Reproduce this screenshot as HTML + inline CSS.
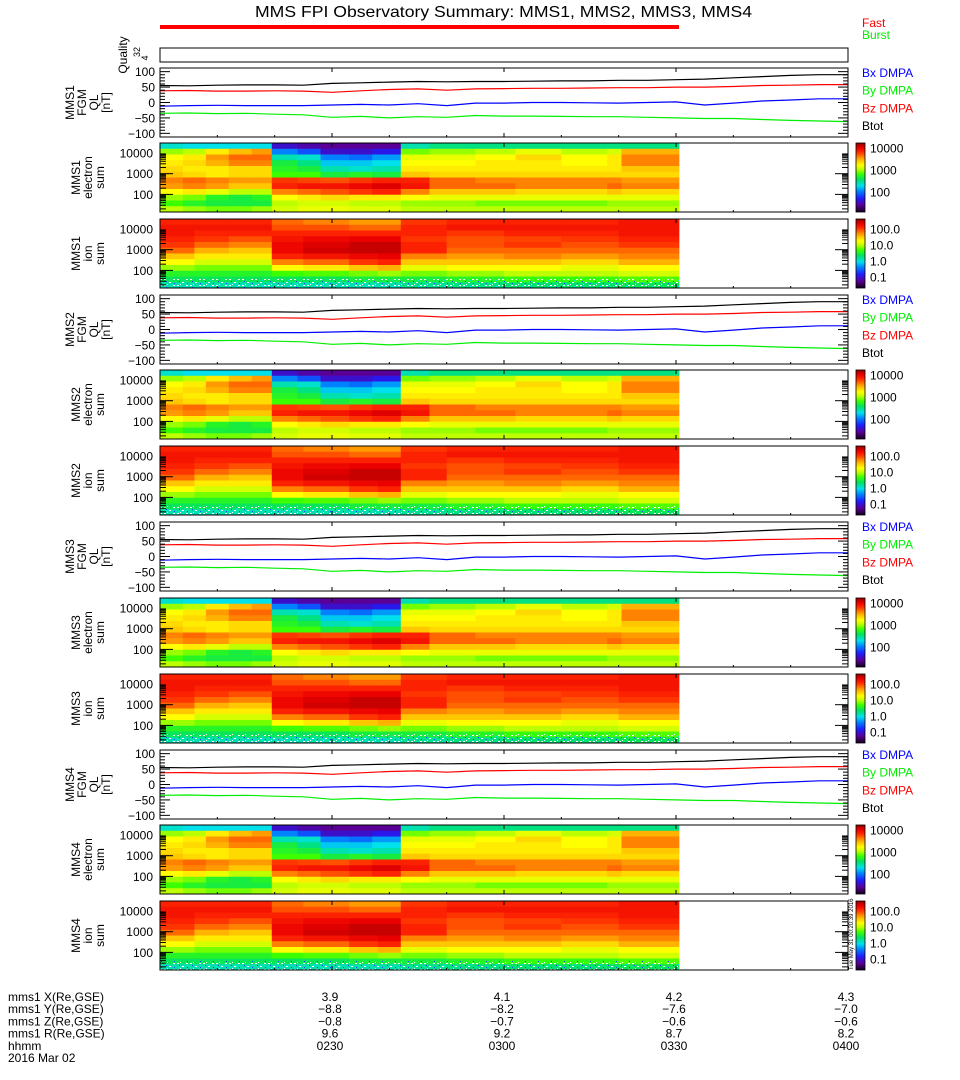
<!DOCTYPE html>
<html><head><meta charset="utf-8"><style>
html,body{margin:0;padding:0;background:#fff;}
svg{display:block;font-family:"Liberation Sans",sans-serif;}
</style></head><body>
<svg id="fig" width="960" height="1080" viewBox="0 0 960 1080" xmlns="http://www.w3.org/2000/svg">
<text x="255" y="17" font-size="16" textLength="497" lengthAdjust="spacingAndGlyphs">MMS FPI Observatory Summary: MMS1, MMS2, MMS3, MMS4</text>
<rect x="160" y="25" width="519" height="4" fill="#ff0000"/>
<text x="862" y="27" font-size="12" fill="#ff0000">Fast</text>
<text x="862" y="39" font-size="12" fill="#00ee00">Burst</text>
<rect x="160" y="48" width="688" height="14" fill="none" stroke="#000" stroke-width="1"/>
<text transform="translate(127,55) rotate(-90)" font-size="12" text-anchor="middle">Quality</text>
<text transform="translate(140,52) rotate(-90)" font-size="9" text-anchor="middle">32</text>
<text transform="translate(148,58) rotate(-90)" font-size="9" text-anchor="middle">4</text>
<g id="panels"></g>
<g id="bottom"></g>
<text transform="translate(853,970) rotate(-90)" font-size="6">Tue May 31 00:20:39 2016</text>
</svg>
<script>
// ---- time axis ----
const tickTimes = [30, 60, 90, 120];
const tickHHMM = ["0230", "0300", "0330", "0400"];
const posX = ["3.9", "4.1", "4.2", "4.3"];
const posY = ["-8.8", "-8.2", "-7.6", "-7.0"];
const posZ = ["-0.8", "-0.7", "-0.6", "-0.6"];
const posR = ["9.6", "9.2", "8.7", "8.2"];
// ---- FGM data (minutes after 0200, nT) ----
const fgmTimes = [0,5,10,15,20,25,30,35,40,45,50,55,60,65,70,75,80,85,90,95,100,105,110,115,120];
const btot = [55,54,56,57,57,56,62,64,66,68,67,68,68,69,70,70,72,72,74,76,80,84,88,90,90];
const bz = [38,39,37,37,38,37,33,38,42,44,40,44,45,46,46,47,48,48,50,50,52,55,56,58,58];
const bx = [-12,-10,-9,-10,-10,-10,-8,-6,-8,-4,-10,-2,-2,0,0,-1,-2,0,2,-8,-2,5,8,12,12];
const by = [-35,-34,-36,-35,-38,-40,-48,-45,-50,-46,-48,-42,-44,-44,-45,-46,-46,-48,-50,-52,-52,-55,-58,-60,-62];
// ---- spectrogram data (colour-scale level 0..1, rows top->bottom) ----
const specEnd = 90.5;
const eTimes = [0,4,8,12,16,19.5,24,28,33,37,42,47,55,62,70,78,80.5];
const eSpec = [
 [0.40,0.60,0.68,0.70,0.72,0.74,0.80,0.78,0.68,0.60,0.55,0.62],
 [0.38,0.62,0.70,0.72,0.70,0.72,0.82,0.80,0.70,0.58,0.52,0.60],
 [0.38,0.70,0.78,0.76,0.70,0.70,0.80,0.78,0.66,0.52,0.50,0.58],
 [0.38,0.75,0.82,0.80,0.72,0.72,0.78,0.74,0.62,0.50,0.50,0.58],
 [0.38,0.78,0.82,0.80,0.72,0.72,0.78,0.74,0.62,0.52,0.50,0.60],
 [0.15,0.30,0.42,0.50,0.52,0.55,0.86,0.88,0.80,0.68,0.62,0.64],
 [0.12,0.25,0.40,0.45,0.50,0.55,0.85,0.90,0.82,0.70,0.64,0.66],
 [0.10,0.15,0.30,0.36,0.42,0.50,0.84,0.90,0.84,0.72,0.64,0.66],
 [0.10,0.15,0.28,0.36,0.40,0.52,0.86,0.92,0.86,0.70,0.62,0.65],
 [0.10,0.18,0.32,0.38,0.42,0.50,0.88,0.94,0.88,0.70,0.62,0.65],
 [0.42,0.58,0.66,0.68,0.70,0.74,0.88,0.90,0.80,0.68,0.60,0.62],
 [0.45,0.60,0.66,0.68,0.70,0.72,0.82,0.82,0.74,0.66,0.60,0.62],
 [0.45,0.62,0.68,0.70,0.70,0.72,0.80,0.82,0.74,0.66,0.58,0.62],
 [0.45,0.66,0.72,0.70,0.70,0.72,0.80,0.80,0.72,0.66,0.58,0.62],
 [0.45,0.62,0.68,0.68,0.70,0.72,0.80,0.80,0.72,0.66,0.58,0.62],
 [0.45,0.64,0.70,0.70,0.70,0.72,0.80,0.82,0.74,0.66,0.60,0.62],
 [0.45,0.76,0.80,0.80,0.74,0.72,0.78,0.80,0.72,0.66,0.60,0.62]
];
const iTimes = [0,6,12,19.5,25,33,38,42,50,60,70,80];
const iSpec = [
 [0.88,0.90,0.90,0.88,0.86,0.82,0.74,0.68,0.60,0.52,0.48,0.42],
 [0.88,0.90,0.88,0.86,0.82,0.76,0.70,0.64,0.58,0.52,0.48,0.42],
 [0.88,0.90,0.88,0.84,0.80,0.74,0.70,0.64,0.58,0.52,0.48,0.42],
 [0.82,0.84,0.88,0.90,0.92,0.92,0.88,0.80,0.68,0.55,0.48,0.42],
 [0.80,0.84,0.88,0.92,0.94,0.95,0.90,0.82,0.70,0.56,0.48,0.42],
 [0.78,0.82,0.88,0.93,0.96,0.96,0.92,0.86,0.74,0.58,0.50,0.42],
 [0.78,0.82,0.88,0.93,0.96,0.96,0.93,0.88,0.76,0.60,0.50,0.42],
 [0.86,0.88,0.88,0.86,0.88,0.88,0.80,0.74,0.66,0.58,0.50,0.44],
 [0.88,0.90,0.86,0.84,0.84,0.82,0.78,0.74,0.68,0.60,0.52,0.45],
 [0.88,0.90,0.88,0.85,0.86,0.82,0.80,0.74,0.68,0.62,0.54,0.46],
 [0.88,0.90,0.88,0.86,0.84,0.82,0.78,0.72,0.66,0.62,0.54,0.46],
 [0.90,0.90,0.90,0.88,0.86,0.82,0.80,0.76,0.68,0.64,0.56,0.48]
];
const craftNames = ["MMS1", "MMS2", "MMS3", "MMS4"];
const fgmLegendNames = ["Bx DMPA", "By DMPA", "Bz DMPA", "Btot"];

const NS = "http://www.w3.org/2000/svg";
const X0 = 160, X1 = 848, PH = 69;
const panelTops = [68,143,219,295,370,446,522,598,674,750,825,901];
function xScale(t){ return X0 + t * (X1 - X0) / 120; }
function mk(tag, attrs, parent){ const e = document.createElementNS(NS, tag); for (const k in attrs) e.setAttribute(k, attrs[k]); parent.appendChild(e); return e; }
const stops = [[0,[20,0,30]],[0.1,[90,0,150]],[0.2,[30,30,255]],[0.3,[0,130,255]],[0.38,[0,225,235]],[0.47,[0,225,100]],[0.55,[60,255,0]],[0.62,[190,255,0]],[0.68,[255,255,0]],[0.75,[255,190,0]],[0.8,[255,130,0]],[0.87,[255,40,0]],[0.93,[235,0,0]],[1,[150,0,0]]];
function cmap(v){ v = Math.max(0, Math.min(1, v)); for (let i = 1; i < stops.length; i++){ if (v <= stops[i][0]){ const a = stops[i-1], b = stops[i]; const f = (v - a[0]) / (b[0] - a[0]); const c = a[1].map((x, j) => Math.round(x + (b[1][j] - x) * f)); return `rgb(${c[0]},${c[1]},${c[2]})`; } } return "rgb(150,0,0)"; }

const root = document.getElementById("panels");
const defs = mk("defs", {}, root);
const grad = mk("linearGradient", {id: "cbar", x1: 0, y1: 1, x2: 0, y2: 0}, defs);
stops.forEach(s => mk("stop", {offset: s[0], "stop-color": cmap(s[0])}, grad));
const pat = mk("pattern", {id: "speck", width: 13, height: 6, patternUnits: "userSpaceOnUse"}, defs);
[[0,0,2,1,"#fff"],[5,1,1,1,"#2040ff"],[8,3,2,1,"#fff"],[2,4,1,1,"#00e0f0"],[11,2,1,1,"#fff"],[4,3,2,1,"#fff"],[10,5,1,1,"#3030ff"]].forEach(p => mk("rect", {x: p[0], y: p[1], width: p[2], height: p[3], fill: p[4]}, pat));

function xTicks(g, top){
  tickTimes.forEach(t => {
    mk("line", {x1: xScale(t), x2: xScale(t), y1: top + PH, y2: top + PH - 4, stroke: "#000"}, g);
    mk("line", {x1: xScale(t), x2: xScale(t), y1: top, y2: top + 4, stroke: "#000"}, g);
  });
  for (let t = 10; t < 120; t += 10){ mk("line", {x1: xScale(t), x2: xScale(t), y1: top + PH, y2: top + PH - 2, stroke: "#000"}, g); }
}
function ylabel(g, lines, xs, top){
  lines.forEach((s, i) => {
    const t = mk("text", {transform: `translate(${xs[i]},${top + PH / 2}) rotate(-90)`, "font-size": 12, "text-anchor": "middle"}, g);
    
    
    t.textContent = s;
  });
}

craftNames.forEach((cn, ci) => {
  let top = panelTops[ci * 3];
  let g = mk("g", {}, root);
  
  
  const yF = v => top + 34.5 - v * 0.3085;
  [[btot,"#000"],[bz,"#ff0000"],[bx,"#0000ff"],[by,"#00ee00"]].forEach(([arr, col]) => {
    let d = "";
    arr.forEach((v, i) => { const x = xScale(fgmTimes[i]); d += (i ? "L" : "M") + x.toFixed(1) + "," + yF(v).toFixed(1); });
    const p = mk("path", {d: d, fill: "none", stroke: col, "stroke-width": 1.2}, g);
    
    
  });
  mk("rect", {x: X0, y: top, width: X1 - X0, height: PH, fill: "none", stroke: "#000"}, g);
  [100,50,0,-50,-100].forEach(v => {
    mk("line", {x1: X0, x2: X0 + 10, y1: yF(v), y2: yF(v), stroke: "#000"}, g);
    mk("line", {x1: X1, x2: X1 - 10, y1: yF(v), y2: yF(v), stroke: "#000"}, g);
    const t = mk("text", {x: 155, y: yF(v) + 4.5, "font-size": 12, "text-anchor": "end"}, g);
    
    
    t.textContent = v < 0 ? "\u2212" + (-v) : String(v);
  });
  for (let v = -100; v <= 100; v += 10){ if (v % 50){ mk("line", {x1: X0, x2: X0 + 5, y1: yF(v), y2: yF(v), stroke: "#000"}, g); mk("line", {x1: X1, x2: X1 - 5, y1: yF(v), y2: yF(v), stroke: "#000"}, g); } }
  xTicks(g, top);
  ylabel(g, [cn, "FGM", "QL", "[nT]"], [74, 86, 98, 110], top);
  fgmLegendNames.forEach((s, i) => {
    const t = mk("text", {x: 862, y: top + 9 + i * 17.7, "font-size": 12, fill: ["#0000ff","#00ee00","#ff0000","#000"][i]}, g);
    
    
    t.textContent = s;
  });

  [["electron", eTimes, eSpec, ["10000","1000","100"], [5,27,49]], ["ion", iTimes, iSpec, ["100.0","10.0","1.0","0.1"], [10,26,42,58]]].forEach(([kind, times, spec, cbl, cbo], k) => {
    top = panelTops[ci * 3 + 1 + k];
    g = mk("g", {}, root);
    
    
    const nr = spec[0].length, rh = PH / nr;
    times.forEach((t0, c) => {
      const t1 = c + 1 < times.length ? times[c + 1] : specEnd;
      spec[c].forEach((v, r) => {
        const cell = mk("rect", {x: xScale(t0).toFixed(2), y: (top + r * rh).toFixed(2), width: (xScale(t1) - xScale(t0) + 0.5).toFixed(2), height: (rh + 0.5).toFixed(2), fill: cmap(v)}, g);
        
        
      });
    });
    if (kind === "ion") mk("rect", {x: X0, y: top + PH - 9, width: xScale(specEnd) - X0, height: 9, fill: "url(#speck)"}, g);
    mk("rect", {x: X0, y: top, width: X1 - X0, height: PH, fill: "none", stroke: "#000"}, g);
    const yL = v => top + 10 + (4 - v) * 20.7;
    [4,3,2].forEach((d, i) => {
      const t = mk("text", {x: 153, y: yL(d) + 4.5, "font-size": 12, "text-anchor": "end"}, g);
      
      
      t.textContent = ["10000","1000","100"][i];
      for (let m = 1; m <= 9; m++){
        const yy = yL(d - 1 + Math.log10(m));
        if (yy < top || yy > top + PH) continue;
        const len = m === 1 ? 13 : 6;
        mk("line", {x1: X0, x2: X0 + len, y1: yy, y2: yy, stroke: "#000"}, g);
        mk("line", {x1: X1, x2: X1 - len, y1: yy, y2: yy, stroke: "#000"}, g);
      }
    });
    xTicks(g, top);
    ylabel(g, [cn, kind, "sum"], [80, 92, 104], top);
    const cb = mk("rect", {x: 856, y: top, width: 9, height: PH, fill: "url(#cbar)", stroke: "#000", "stroke-width": 0.8}, g);
    
    
    cbl.forEach((s, i) => {
      const t = mk("text", {x: 870, y: top + cbo[i] + 4.5, "font-size": 12}, g);
      
      
      t.textContent = s;
    });
  });
});

const bot = document.getElementById("bottom");
const rowNames = ["mms1 X(Re,GSE)","mms1 Y(Re,GSE)","mms1 Z(Re,GSE)","mms1 R(Re,GSE)","hhmm"];
const rowVals = [posX, posY, posZ, posR, tickHHMM];
rowNames.forEach((nm, r) => {
  const y = 1001 + r * 12.2;
  const t = mk("text", {x: 8, y: y, "font-size": 12}, bot);
  
  
  t.textContent = nm;
  rowVals[r].forEach((v, i) => {
    const tv = mk("text", {x: xScale(tickTimes[i]) - 2, y: y, "font-size": 12, "text-anchor": "middle"}, bot);
    
    
    tv.textContent = v.replace("-", "\u2212");
  });
});
const dt = mk("text", {x: 8, y: 1062, "font-size": 12}, bot);


dt.textContent = "2016 Mar 02";
</script>
</body></html>
